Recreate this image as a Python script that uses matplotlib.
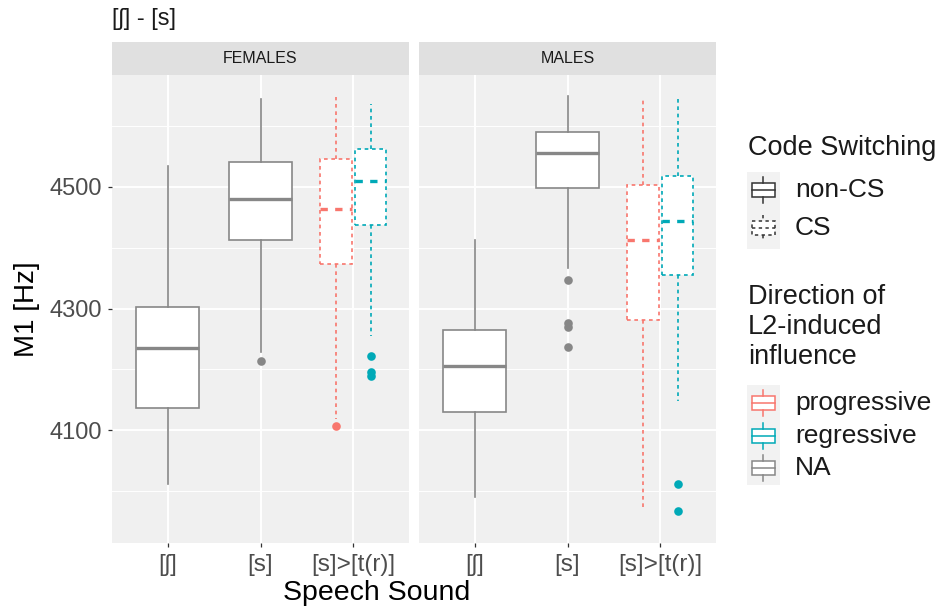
import matplotlib
matplotlib.use('Agg')
from matplotlib import pyplot as plt
from matplotlib.patches import Rectangle

plt.rcParams['font.family'] = ['Liberation Sans', 'DejaVu Sans']

# data
panels = ['FEMALES', 'MALES']
categories = ['[ʃ]', '[s]', '[s]>[t(r)]']
groups = ['[ʃ]', '[s]', 'progressive', 'regressive']
group_cat = [0, 1, 2, 2]
group_shift = [0.0, 0.0, -0.187, 0.187]

fem_lo = [4011, 4229, 4118, 4255]
fem_q1 = [4136, 4413, 4373, 4437]
fem_med = [4235, 4481, 4463, 4510]
fem_q3 = [4302, 4541, 4546, 4562]
fem_hi = [4534, 4644, 4648, 4636]
fem_out = [[], [4214], [4107], [4222, 4196, 4190]]

male_lo = [3990, 4367, 3970, 4148]
male_q1 = [4130, 4498, 4282, 4356]
male_med = [4206, 4556, 4413, 4444]
male_q3 = [4265, 4591, 4503, 4518]
male_hi = [4413, 4650, 4645, 4646]
male_out = [[], [4347, 4277, 4270, 4237], [], [4011, 3968]]

y_major = [4100, 4300, 4500]
y_minor = [4000, 4200, 4400, 4600]

RED = '#F8766D'
TEAL = '#00A9B7'
GREY = '#878787'
group_color = [GREY, GREY, RED, TEAL]
group_cs = [False, False, True, True]

DASH = (0, (2.2, 2.2))

W, H = 951, 610
fig = plt.figure(figsize=(W / 100, H / 100), dpi=100)

def px_axes(x0, x1, y0, y1):
    return fig.add_axes([x0 / W, 1 - y1 / H, (x1 - x0) / W, (y1 - y0) / H])

ax_f = px_axes(112, 409, 75, 543)
ax_m = px_axes(419, 716, 75, 543)

data = [
    (fem_lo, fem_q1, fem_med, fem_q3, fem_hi, fem_out),
    (male_lo, male_q1, male_med, male_q3, male_hi, male_out),
]

for i, (ax, name, d) in enumerate(zip([ax_f, ax_m], panels, data)):
    lo, q1, med, q3, hi, out = d
    ax.set_facecolor('#F0F0F0')
    ax.set_xlim(0.4, 3.6)
    ax.set_ylim(3914.7, 4684.1)
    for s in ax.spines.values():
        s.set_visible(False)
    for y in y_minor:
        ax.axhline(y, color='white', lw=0.7, zorder=0)
    for y in y_major:
        ax.axhline(y, color='white', lw=1.4, zorder=0)
    for x in range(1, 4):
        ax.axvline(x, color='white', lw=1.4, zorder=0)

    for g in range(len(groups)):
        col = group_color[g]
        ls = DASH if group_cs[g] else '-'
        pos = group_cat[g] + 1 + group_shift[g]
        width = 0.34 if group_cs[g] else 0.68
        stats = [dict(whislo=lo[g], q1=q1[g], med=med[g], q3=q3[g],
                      whishi=hi[g], fliers=out[g])]
        ax.bxp(stats, positions=[pos], widths=width, showcaps=False,
               patch_artist=True, manage_ticks=False,
               boxprops=dict(facecolor='white', edgecolor=col, lw=1.2, linestyle=ls),
               whiskerprops=dict(color=col, lw=1.2, linestyle=ls),
               medianprops=dict(color=col, lw=2.4, linestyle=ls),
               flierprops=dict(marker='o', markerfacecolor=col,
                               markeredgecolor='none', markersize=6.2))

    ax.set_xticks([1, 2, 3])
    ax.set_xticklabels(categories, fontsize=17.5, color='#4D4D4D')
    ax.set_yticks(y_major)
    ax.tick_params(axis='both', length=3, width=0.9, color='#333333', pad=3)
    ax.tick_params(axis='x', pad=5)
    if i == 0:
        ax.set_yticklabels([str(v) for v in y_major], fontsize=17, color='#4D4D4D')
        ax.tick_params(axis='y', pad=4)
    else:
        ax.tick_params(axis='y', left=False, labelleft=False)

    strip_h = 33 / 468
    ax.add_patch(Rectangle((0, 1), 1, strip_h, transform=ax.transAxes,
                           facecolor='#E0E0E0', edgecolor='none', clip_on=False))
    ax.text(0.5, 1 + strip_h / 2, name, transform=ax.transAxes, ha='center',
            va='center', fontsize=11.5, color='#1A1A1A')

# titles
fig.text(112 / W, 1 - 19 / H, '[ʃ] - [s]', fontsize=17, ha='left', va='center', color='#1A1A1A')
fig.text(27 / W, 1 - 309 / H, 'M1 [Hz]', fontsize=20, rotation=90, ha='center', va='center')
fig.text(377 / W, 1 - 593 / H, 'Speech Sound', fontsize=20.5, ha='center', va='center')

# legends (drawn on an overlay in pixel coordinates)
lg = fig.add_axes([0, 0, 1, 1])
lg.set_xlim(0, W)
lg.set_ylim(H, 0)
lg.axis('off')
lg.patch.set_alpha(0)

def key_glyph(cy, col, ls):
    lg.plot([763, 763], [cy - 13, cy - 7], color=col, lw=1.1, linestyle=ls)
    lg.plot([763, 763], [cy + 7, cy + 13], color=col, lw=1.1, linestyle=ls)
    lg.add_patch(Rectangle((752, cy - 7), 22.5, 14, facecolor='white', edgecolor=col,
                           lw=1.1, linestyle=ls))
    lg.plot([752, 774.5], [cy, cy], color=col, lw=1.1, linestyle=ls)

lg.text(748, 148, 'Code Switching', fontsize=19.5, ha='left', va='center', color='#1A1A1A')
lg.add_patch(Rectangle((747, 172), 33, 77, facecolor='#F2F2F2', edgecolor='none'))
cs_labels = ['non-CS', 'CS']
cs_y = [190, 228]
for lab, cy, dashed in zip(cs_labels, cs_y, [False, True]):
    key_glyph(cy, '#333333', DASH if dashed else '-')
    lg.text(795, cy, lab, fontsize=19, ha='left', va='center', color='#1A1A1A')

lg.text(748, 327, 'Direction of\nL2-induced\ninfluence', fontsize=19.5, ha='left',
        va='center', color='#1A1A1A', linespacing=1.22)
lg.add_patch(Rectangle((747, 385), 33, 100, facecolor='#F2F2F2', edgecolor='none'))
dir_labels = ['progressive', 'regressive', 'NA']
dir_colors = [RED, TEAL, GREY]
dir_y = [403, 436, 468]
for lab, col, cy in zip(dir_labels, dir_colors, dir_y):
    key_glyph(cy, col, '-')
    lg.text(795, cy, lab, fontsize=19, ha='left', va='center', color='#1A1A1A')

fig.savefig('out.png', dpi=100)
